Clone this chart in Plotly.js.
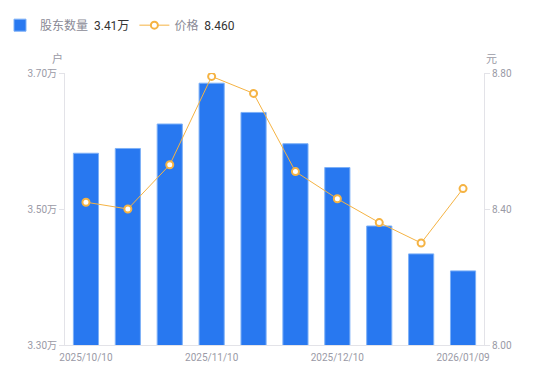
<!DOCTYPE html>
<html>
<head>
<meta charset="utf-8">
<script src="https://cdn.plot.ly/plotly-3.0.1.min.js"></script>
<style>
html,body{margin:0;padding:0;background:#fff;}
#chart{width:550px;height:381px;}
</style>
</head>
<body>
<div id="chart"></div>
<script>
var dates = ["2025/10/10","2025/10/20","2025/10/31","2025/11/10","2025/11/20","2025/11/28","2025/12/10","2025/12/19","2025/12/31","2026/01/09"];
var holders = [3.582, 3.589, 3.625, 3.685, 3.642, 3.596, 3.561, 3.475, 3.434, 3.409];
var prices = [8.42, 8.40, 8.53, 8.79, 8.74, 8.51, 8.43, 8.36, 8.30, 8.46];
var xTickVals = ["2025/10/10","2025/11/10","2025/12/10","2026/01/09"];
var leftTicks = [3.30, 3.50, 3.70];
var leftTickText = ["3.30万","3.50万","3.70万"];
var rightTicks = [8.00, 8.40, 8.80];

var fontFam = 'Roboto, "Noto Sans CJK SC", sans-serif';
var gray = '#9a9aa6';
var axisLine = '#e3e3e8';

var traces = [
  {
    type: 'bar',
    x: dates,
    y: holders,
    name: '股东数量  <span style="color:#333">3.41万</span>',
    marker: {color: '#2878F0', line: {color: '#7db0f7', width: 1}},
    hoverinfo: 'skip'
  },
  {
    type: 'scatter',
    mode: 'lines+markers',
    x: dates,
    y: prices,
    yaxis: 'y2',
    name: '价格  <span style="color:#333">8.460</span>',
    line: {color: '#F5B343', width: 1},
    marker: {symbol: 'circle', size: 7, color: '#ffffff', line: {color: '#F5B343', width: 2}},
    hoverinfo: 'skip'
  }
];

var layout = {
  width: 550,
  height: 381,
  margin: {l: 65, r: 66, t: 73, b: 36},
  paper_bgcolor: '#ffffff',
  plot_bgcolor: '#ffffff',
  font: {family: fontFam, size: 10, color: gray},
  bargap: 0.4,
  showlegend: true,
  legend: {
    orientation: 'h',
    xref: 'container', yref: 'container',
    x: 0.0, y: 0.972, xanchor: 'left', yanchor: 'top',
    font: {size: 12, color: '#8a8a96', family: fontFam},
    itemwidth: 30,
    tracegroupgap: 0
  },
  xaxis: {
    type: 'category',
    range: [-0.5, 9.5],
    tickmode: 'array',
    tickvals: xTickVals,
    ticktext: xTickVals,
    showgrid: false,
    showline: true,
    linecolor: axisLine,
    linewidth: 1,
    ticks: '',
    ticklabelstandoff: 3,
    tickfont: {size: 10, color: gray},
    zeroline: false,
    fixedrange: true
  },
  yaxis: {
    range: [3.30, 3.70],
    tickmode: 'array',
    tickvals: leftTicks,
    ticktext: leftTickText,
    showgrid: false,
    showline: true,
    linecolor: axisLine,
    ticks: 'outside',
    ticklen: 5,
    tickcolor: axisLine,
    tickfont: {size: 10, color: gray},
    zeroline: false,
    fixedrange: true
  },
  yaxis2: {
    overlaying: 'y',
    side: 'right',
    range: [8.00, 8.80],
    tickmode: 'array',
    tickvals: rightTicks,
    tickformat: '.2f',
    showgrid: false,
    showline: true,
    linecolor: axisLine,
    ticks: 'outside',
    ticklen: 5,
    tickcolor: axisLine,
    tickfont: {size: 10, color: gray},
    zeroline: false,
    fixedrange: true
  },
  annotations: [
    {text: '户', xref: 'paper', yref: 'paper', x: 0, y: 1, xanchor: 'right', yanchor: 'bottom', xshift: 0, yshift: 5, showarrow: false, font: {size: 11, color: gray}},
    {text: '元', xref: 'paper', yref: 'paper', x: 1, y: 1, xanchor: 'left', yanchor: 'bottom', xshift: 0, yshift: 5, showarrow: false, font: {size: 11, color: gray}}
  ]
};

Plotly.newPlot('chart', traces, layout, {displayModeBar: false, staticPlot: true});
</script>
</body>
</html>
